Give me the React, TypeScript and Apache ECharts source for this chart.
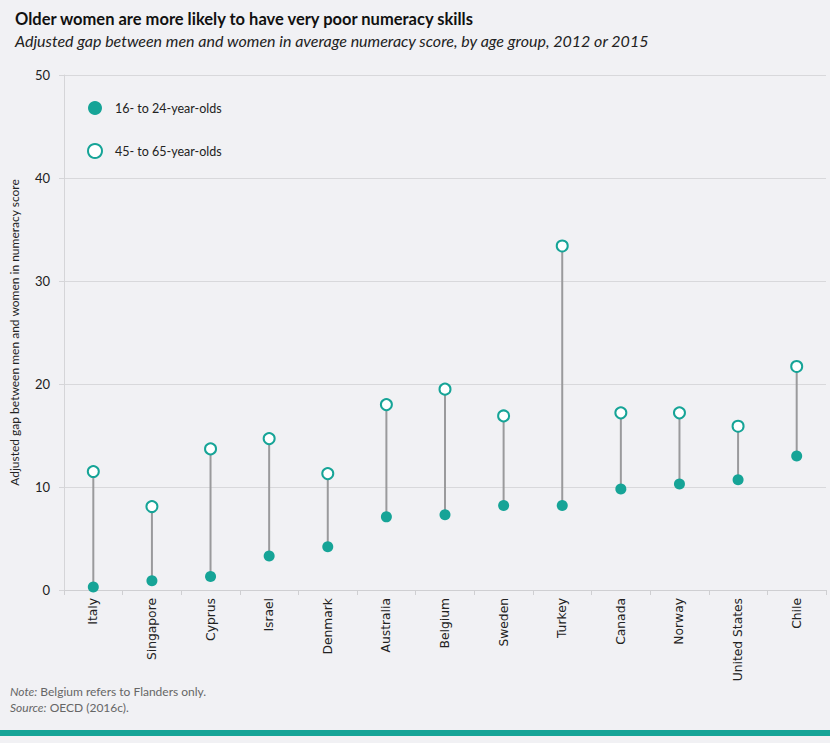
import React, { useEffect, useRef } from "react";
import * as echarts from "echarts";

const countries = [
  "Italy", "Singapore", "Cyprus", "Israel", "Denmark", "Australia", "Belgium",
  "Sweden", "Turkey", "Canada", "Norway", "United States", "Chile",
];
const young = [0.3, 0.9, 1.3, 3.3, 4.2, 7.1, 7.3, 8.2, 8.2, 9.8, 10.3, 10.7, 13.0];
const older = [11.5, 8.1, 13.7, 14.7, 11.3, 18.0, 19.5, 16.9, 33.4, 17.2, 17.2, 15.9, 21.7];
const yTicks = { min: 0, max: 50, interval: 10 };

const TEAL = "#16a497";
const BG = "#f1f1f4";

const App: React.FC = () => {
  const chartRef = useRef<HTMLDivElement>(null);

  useEffect(() => {
    document.body.style.margin = "0";
    const chart = echarts.init(chartRef.current, null, { renderer: "svg" });
    const options = {
      animation: false,
      backgroundColor: BG,
      title: [
        {
          text: "Older women are more likely to have very poor numeracy skills",
          left: 10,
          top: 5,
          textStyle: { fontFamily: "Lato", fontSize: 16.5, fontWeight: "bold", color: "#111" },
        },
        {
          text: "Adjusted gap between men and women in average numeracy score, by age group, 2012 or 2015",
          left: 10,
          top: 27,
          textStyle: { fontFamily: "Lato", fontSize: 16, fontStyle: "italic", fontWeight: "normal", color: "#222" },
        },
      ],
      legend: {
        orient: "vertical",
        left: 82,
        top: 96,
        itemGap: 28,
        itemWidth: 14,
        itemHeight: 14,
        textStyle: { fontFamily: "Lato", fontSize: 12.5, color: "#222", padding: [0, 0, 0, 8] },
        data: [
          { name: "16- to 24-year-olds", icon: "circle", itemStyle: { color: TEAL } },
          { name: "45- to 65-year-olds", icon: "circle", itemStyle: { color: "#fff", borderColor: TEAL, borderWidth: 2 } },
        ],
      },
      grid: { left: 62, right: 4, top: 75, bottom: 153 },
      xAxis: {
        type: "category",
        data: countries,
        axisLine: { lineStyle: { color: "#cfcfd2" } },
        axisTick: { show: true, length: 5, lineStyle: { color: "#cfcfd2" } },
        axisLabel: {
          rotate: 90,
          margin: 8,
          fontFamily: "DejaVu Sans",
          fontSize: 12.3,
          color: "#222",
          interval: 0,
        },
      },
      yAxis: {
        type: "value",
        ...yTicks,
        name: "Adjusted gap between men and women in numeracy score",
        nameLocation: "middle",
        nameGap: 44,
        nameTextStyle: { fontFamily: "Lato", fontSize: 12, color: "#222" },
        axisLine: { show: true, lineStyle: { color: "#d5d5d8" } },
        axisTick: { show: true, length: 5, lineStyle: { color: "#d5d5d8" } },
        axisLabel: { fontFamily: "Lato", fontSize: 13, color: "#222", margin: 14 },
        splitLine: { lineStyle: { color: "#d8d8db" } },
      },
      series: [
        {
          type: "custom",
          name: "stems",
          silent: true,
          data: countries.map((_, i) => [i, young[i], older[i]]),
          renderItem: (params: any, api: any) => {
            const a = api.coord([api.value(0), api.value(1)]);
            const b = api.coord([api.value(0), api.value(2)]);
            return {
              type: "line",
              shape: { x1: a[0], y1: a[1], x2: b[0], y2: b[1] },
              style: { stroke: "#9a9a9c", lineWidth: 2 },
            };
          },
          z: 1,
        },
        {
          type: "scatter",
          name: "16- to 24-year-olds",
          data: young,
          symbol: "circle",
          symbolSize: 11,
          itemStyle: { color: TEAL, opacity: 1 },
          z: 3,
        },
        {
          type: "scatter",
          name: "45- to 65-year-olds",
          data: older,
          symbol: "circle",
          symbolSize: 11,
          itemStyle: { color: "#fff", borderColor: TEAL, borderWidth: 2, opacity: 1 },
          z: 3,
        },
      ],
      graphic: [
        {
          type: "text",
          left: 10,
          top: 683,
          style: {
            text: "{i|Note:} Belgium refers to Flanders only.\n{i|Source:} OECD (2016c).",
            fontFamily: "Lato",
            fontSize: 12,
            fill: "#666",
            lineHeight: 16,
            rich: { i: { fontStyle: "italic", fontFamily: "Lato", fontSize: 12, fill: "#666" } },
          },
        },
        {
          type: "rect",
          left: 0,
          top: 730,
          shape: { width: 830, height: 6 },
          style: { fill: TEAL },
        },
      ],
    };
    chart.setOption(options);
    return () => {
      chart.dispose();
    };
  }, []);

  return <div ref={chartRef} style={{ width: 830, height: 743 }}></div>;
};

export default App;
